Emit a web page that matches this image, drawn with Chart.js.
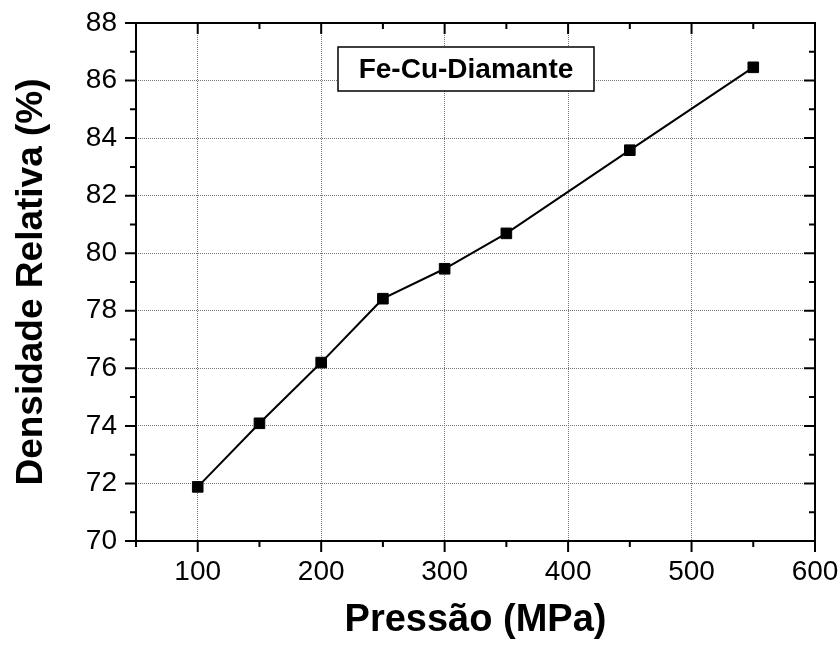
<!DOCTYPE html>
<html>
<head>
<meta charset="utf-8">
<script src="https://cdn.jsdelivr.net/npm/chart.js"></script>
<style>
  html, body { margin: 0; padding: 0; background: #fff; }
  #wrap { width: 839px; height: 650px; }
</style>
</head>
<body>
<div id="wrap"><canvas id="chart" width="839" height="650"></canvas></div>
<script>
const pressures = [100, 150, 200, 250, 300, 350, 450, 550];
const densities = [71.88, 74.09, 76.2, 78.42, 79.46, 80.69, 83.58, 86.46];
const seriesName = 'Fe-Cu-Diamante';
const xTitle = 'Pressão (MPa)';
const yTitle = 'Densidade Relativa (%)';

// caixa com o nome da série + moldura e marcas dos quatro lados
const framePlugin = {
  id: 'frame',
  afterDraw(chart) {
    const ctx = chart.ctx;
    const a = chart.chartArea;
    const xs = chart.scales.x, ys = chart.scales.y;
    ctx.save();
    ctx.strokeStyle = '#000';
    ctx.lineWidth = 2;
    ctx.beginPath();
    xs.ticks.forEach(t => {
      const px = xs.getPixelForValue(t.value);
      const major = t.value % 100 === 0;
      const len = major ? 11 : 6;
      ctx.moveTo(px, a.bottom); ctx.lineTo(px, a.bottom + len);
      ctx.moveTo(px, a.top); ctx.lineTo(px, a.top + len);
    });
    ys.ticks.forEach(t => {
      const py = ys.getPixelForValue(t.value);
      const major = t.value % 2 === 0;
      const len = major ? 11 : 6;
      ctx.moveTo(a.left, py); ctx.lineTo(a.left - len, py);
      ctx.moveTo(a.right, py); ctx.lineTo(a.right - len, py);
    });
    ctx.stroke();
    ctx.strokeRect(a.left, a.top, a.right - a.left, a.bottom - a.top);

    // caixa da legenda
    const bx = 338, by = 47, bw = 256, bh = 44;
    ctx.fillStyle = '#fff';
    ctx.fillRect(bx, by, bw, bh);
    ctx.lineWidth = 1.5;
    ctx.strokeRect(bx, by, bw, bh);
    ctx.fillStyle = '#000';
    ctx.font = 'bold 28px "Liberation Sans", Arial, sans-serif';
    ctx.textAlign = 'center';
    ctx.textBaseline = 'middle';
    ctx.fillText(chart.data.datasets[0].label, bx + bw / 2, by + bh / 2 + 1);
    ctx.restore();
  }
};

const data = {
  datasets: [{
    label: seriesName,
    data: pressures.map((p, i) => ({ x: p, y: densities[i] })),
    borderColor: '#000',
    backgroundColor: '#000',
    borderWidth: 2,
    pointStyle: 'rect',
    pointRadius: 7.5,
    pointBorderWidth: 1,
    tension: 0
  }]
};

const fam = '"Liberation Sans", Arial, sans-serif';
const tickFont = { family: fam, size: 28 };

const config = {
  type: 'line',
  data: data,
  options: {
    responsive: false,
    animation: false,
    layout: { padding: { top: 23, right: 24, left: 0, bottom: 0 } },
    plugins: { legend: { display: false }, tooltip: { enabled: false } },
    scales: {
      x: {
        type: 'linear',
        min: 50,
        max: 600,
        afterFit: s => { s.height = 109; s.paddingLeft = 0; s.paddingRight = 0; },
        ticks: {
          stepSize: 50,
          color: '#000',
          font: tickFont,
          padding: 14,
          maxRotation: 0,
          autoSkip: false,
          callback: v => (v % 100 === 0 ? v : '')
        },
        grid: {
          drawTicks: false,
          color: c => (c.tick && c.tick.value % 100 === 0 ? '#777' : 'rgba(0,0,0,0)'),
          lineWidth: 1
        },
        border: { display: false, dash: [1, 1] },
        title: { display: true, text: xTitle, color: '#000', font: { family: fam, size: 38, weight: 'bold', lineHeight: 1 }, padding: { top: 0, bottom: 10 } }
      },
      y: {
        min: 70,
        max: 88,
        afterFit: s => { s.width = 136; s.paddingTop = 0; s.paddingBottom = 0; },
        ticks: {
          stepSize: 1,
          color: '#000',
          font: tickFont,
          padding: 19,
          autoSkip: false,
          callback: v => (v % 2 === 0 ? v : '')
        },
        grid: {
          drawTicks: false,
          color: c => (c.tick && c.tick.value % 2 === 0 ? '#777' : 'rgba(0,0,0,0)'),
          lineWidth: 1
        },
        border: { display: false, dash: [1, 1] },
        title: { display: true, text: yTitle, color: '#000', font: { family: fam, size: 37, weight: 'bold', lineHeight: 1 }, padding: { top: 13, bottom: 0 } }
      }
    }
  },
  plugins: [framePlugin]
};

new Chart(document.getElementById('chart').getContext('2d'), config);
</script>
</body>
</html>
